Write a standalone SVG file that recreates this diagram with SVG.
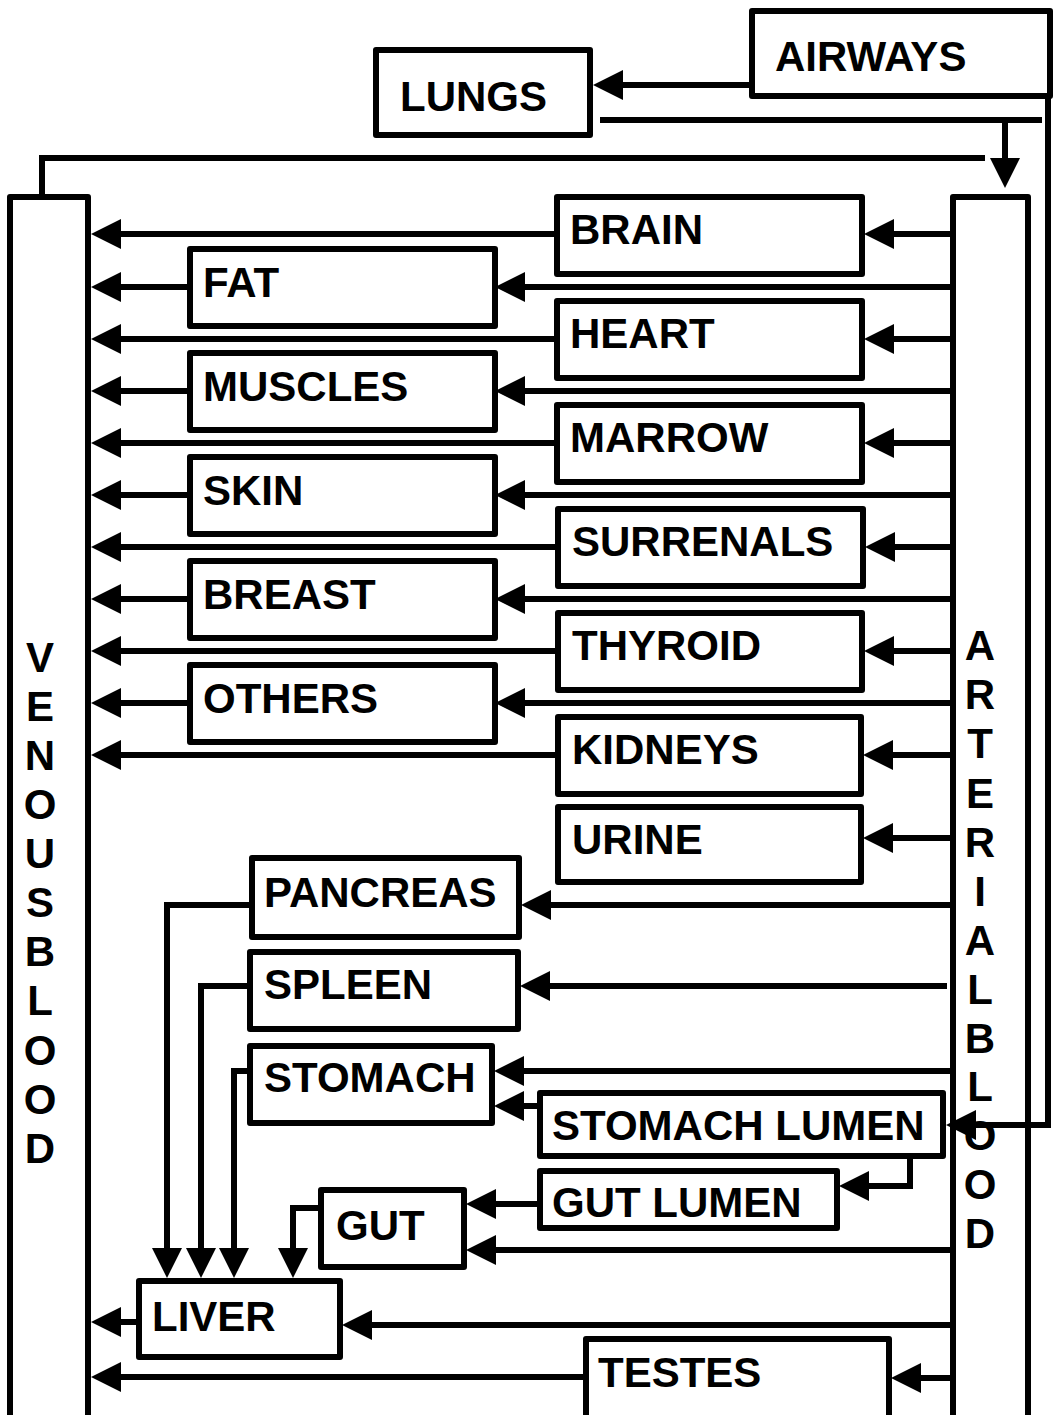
<svg xmlns="http://www.w3.org/2000/svg" width="1054" height="1415" viewBox="0 0 1054 1415">
<style>
.box{fill:#fff;stroke:#000;stroke-width:6;stroke-linejoin:round}
.ln{fill:none;stroke:#000;stroke-width:6}
.a{marker-end:url(#ah)}
text{font-family:"Liberation Sans",Arial,sans-serif;font-weight:bold;font-size:42px;fill:#000}
.c{text-anchor:middle}
</style>
<defs>
<marker id="ah" viewBox="0 0 30 30" refX="0" refY="15" markerWidth="30" markerHeight="30" markerUnits="userSpaceOnUse" orient="auto">
<path d="M0,0 L30,15 L0,30 z" fill="#000"/>
</marker>
</defs>
<rect width="1054" height="1415" fill="#fff"/>
<g id="airways"><rect class="box" x="752" y="11" width="298" height="85"/><text x="775" y="71">AIRWAYS</text></g>
<g id="lungs"><rect class="box" x="376" y="50" width="214" height="85"/><text x="400" y="111">LUNGS</text></g>
<g id="venous"><rect class="box" x="10" y="197" width="78" height="1250"/>
<text class="c"><tspan x="40" y="672">V</tspan><tspan x="40" y="721">E</tspan><tspan x="40" y="770">N</tspan><tspan x="40" y="819">O</tspan><tspan x="40" y="868">U</tspan><tspan x="40" y="917">S</tspan><tspan x="40" y="966">B</tspan><tspan x="40" y="1015">L</tspan><tspan x="40" y="1065">O</tspan><tspan x="40" y="1114">O</tspan><tspan x="40" y="1163">D</tspan></text></g>
<g id="arterial"><rect class="box" x="953" y="197" width="75" height="1250"/>
<text class="c"><tspan x="980" y="660">A</tspan><tspan x="980" y="709">R</tspan><tspan x="980" y="758">T</tspan><tspan x="980" y="808">E</tspan><tspan x="980" y="857">R</tspan><tspan x="980" y="906">I</tspan><tspan x="980" y="955">A</tspan><tspan x="980" y="1004">L</tspan><tspan x="980" y="1053">B</tspan><tspan x="980" y="1101">L</tspan><tspan x="980" y="1150">O</tspan><tspan x="980" y="1199">O</tspan><tspan x="980" y="1248">D</tspan></text></g>
<g id="brain"><rect class="box" x="557" y="197" width="305" height="77"/><text x="570" y="244">BRAIN</text></g>
<g id="heart"><rect class="box" x="557" y="301" width="305" height="77"/><text x="570" y="348">HEART</text></g>
<g id="marrow"><rect class="box" x="557" y="405" width="305" height="77"/><text x="570" y="452">MARROW</text></g>
<g id="surrenals"><rect class="box" x="558" y="509" width="305" height="77"/><text x="572" y="556">SURRENALS</text></g>
<g id="thyroid"><rect class="box" x="558" y="613" width="304" height="77"/><text x="572" y="660">THYROID</text></g>
<g id="kidneys"><rect class="box" x="558" y="717" width="303" height="77"/><text x="572" y="764">KIDNEYS</text></g>
<g id="urine"><rect class="box" x="558" y="807" width="303" height="75"/><text x="572" y="854">URINE</text></g>
<g id="fat"><rect class="box" x="190" y="249" width="305" height="77"/><text x="203" y="297">FAT</text></g>
<g id="muscles"><rect class="box" x="190" y="353" width="305" height="77"/><text x="203" y="401">MUSCLES</text></g>
<g id="skin"><rect class="box" x="190" y="457" width="305" height="77"/><text x="203" y="505">SKIN</text></g>
<g id="breast"><rect class="box" x="190" y="561" width="305" height="77"/><text x="203" y="609">BREAST</text></g>
<g id="others"><rect class="box" x="190" y="665" width="305" height="77"/><text x="203" y="713">OTHERS</text></g>
<g id="pancreas"><rect class="box" x="252" y="858" width="267" height="79"/><text x="264" y="907">PANCREAS</text></g>
<g id="spleen"><rect class="box" x="250" y="952" width="268" height="77"/><text x="264" y="999">SPLEEN</text></g>
<g id="stomach"><rect class="box" x="250" y="1046" width="242" height="77"/><text x="264" y="1092">STOMACH</text></g>
<g id="stomach-lumen"><rect class="box" x="540" y="1093" width="403" height="63"/><text x="552" y="1140">STOMACH LUMEN</text></g>
<g id="gut-lumen"><rect class="box" x="540" y="1171" width="297" height="57"/><text x="552" y="1217">GUT LUMEN</text></g>
<g id="gut"><rect class="box" x="321" y="1190" width="143" height="77"/><text x="336" y="1240">GUT</text></g>
<g id="liver"><rect class="box" x="139" y="1281" width="201" height="76"/><text x="152" y="1331">LIVER</text></g>
<g id="testes"><rect class="box" x="586" y="1339" width="303" height="110"/><text x="598" y="1387">TESTES</text></g>
<g id="connectors" class="ln">
<path class="a" d="M752,85 H623"/>
<path d="M600,120 H1042"/>
<path class="a" d="M1005,120 V158"/>
<path d="M42,197 V158 H985"/>
<path class="a" d="M1048,96 V1125 H976"/>
<path class="a" d="M953,234 H894"/>
<path class="a" d="M953,339 H894"/>
<path class="a" d="M953,443 H894"/>
<path class="a" d="M953,547 H895"/>
<path class="a" d="M953,651 H894"/>
<path class="a" d="M953,755 H893"/>
<path class="a" d="M953,838 H893"/>
<path class="a" d="M953,287 H525"/>
<path class="a" d="M953,391 H525"/>
<path class="a" d="M953,495 H525"/>
<path class="a" d="M953,599 H525"/>
<path class="a" d="M953,703 H525"/>
<path class="a" d="M557,234 H121"/>
<path class="a" d="M557,339 H121"/>
<path class="a" d="M557,443 H121"/>
<path class="a" d="M558,547 H121"/>
<path class="a" d="M558,651 H121"/>
<path class="a" d="M558,755 H121"/>
<path class="a" d="M190,287 H121"/>
<path class="a" d="M190,391 H121"/>
<path class="a" d="M190,495 H121"/>
<path class="a" d="M190,599 H121"/>
<path class="a" d="M190,703 H121"/>
<path class="a" d="M953,905 H551"/>
<path class="a" d="M947,986 H550"/>
<path class="a" d="M953,1071 H524"/>
<path class="a" d="M540,1106 H524"/>
<path class="a" d="M540,1204 H496"/>
<path class="a" d="M953,1250 H496"/>
<path class="a" d="M953,1325 H372"/>
<path class="a" d="M953,1378 H921"/>
<path class="a" d="M910,1156 V1186 H869"/>
<path class="a" d="M252,905 H167 V1248"/>
<path class="a" d="M250,986 H201 V1248"/>
<path class="a" d="M250,1071 H234 V1248"/>
<path class="a" d="M321,1208 H293 V1248"/>
<path class="a" d="M139,1322 H121"/>
<path class="a" d="M586,1377 H121"/>
</g>
</svg>
